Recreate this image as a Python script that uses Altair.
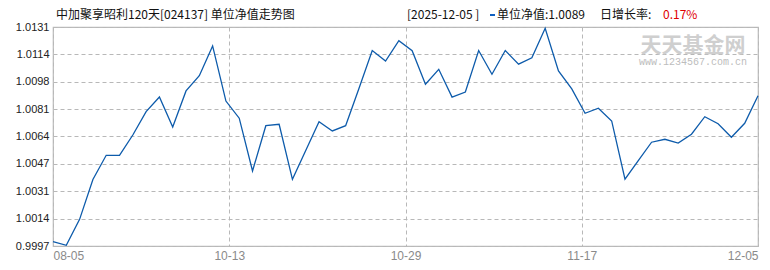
import json
import altair as alt
import pandas as pd

# ---- data ----
nav = [0.99998, 0.99975, 1.00134, 1.00378, 1.00526, 1.00526, 1.00650, 1.00793, 1.00883, 1.00699,
       1.00920, 1.01013, 1.01195, 1.00858, 1.00753, 1.00430, 1.00707, 1.00716, 1.00379, 1.00555,
       1.00732, 1.00675, 1.00707, 1.00935, 1.01167, 1.01103, 1.01227, 1.01166, 1.00961, 1.01052,
       1.00882, 1.00913, 1.01167, 1.01022, 1.01167, 1.01084, 1.01123, 1.01303, 1.01042, 1.00932,
       1.00783, 1.00814, 1.00736, 1.00380, 1.00494, 1.00606, 1.00624, 1.00601, 1.00655, 1.00762,
       1.00719, 1.00636, 1.00722, 1.00890]
date_labels = ["08-05", "10-13", "10-29", "11-17", "12-05"]
y_min, y_max = 0.99971, 1.01311
y_steps = 8

title_text = "中加聚享昭利120天[024137] 单位净值走势图"
date_text = "[2025-12-05 ]"
nav_text = "单位净值:1.0089"
growth_label = "日增长率:"
growth_value = "0.17%"

n = len(nav)
last = n - 1
df = pd.DataFrame({"i": list(range(n)), "nav": nav})
x_ticks = [last * k / (len(date_labels) - 1) for k in range(len(date_labels))]
y_ticks = [y_min + (y_max - y_min) * k / y_steps for k in range(y_steps + 1)]
step = x_ticks[1]
label_expr = f"{json.dumps(date_labels)}[round(datum.value / {step})]"

W, H = 705, 219
LINE = "#0d5bab"
GRID = "#b8b8b8"

line = alt.Chart(df).mark_line(color=LINE, strokeWidth=1.3).encode(
    x=alt.X("i:Q", scale=alt.Scale(domain=[0, last], nice=False, zero=False),
            axis=alt.Axis(values=x_ticks, labelExpr=label_expr, title=None, ticks=False,
                          domain=False, grid=True, gridColor=GRID, gridDash=[4, 3],
                          labelFlush=True, labelColor="#8a8a8a", labelFontSize=12,
                          labelFont="Liberation Sans", labelPadding=4)),
    y=alt.Y("nav:Q", scale=alt.Scale(domain=[y_min, y_max], nice=False, zero=False),
            axis=alt.Axis(values=y_ticks, format=".4f", title=None, ticks=False,
                          domain=False, grid=True, gridColor=GRID, gridDash=[4, 3],
                          labelColor="#222", labelFontSize=11, labelFont="Liberation Sans",
                          labelPadding=4)),
)

one = pd.DataFrame({"k": [0]})

def txt(s, x, y, color="#111", size=12, font="Noto Sans CJK SC", align="left", weight="normal"):
    return alt.Chart(one).mark_text(text=s, align=align, baseline="middle", color=color,
                                    fontSize=size, font=font, fontWeight=weight).encode(
        x=alt.value(x), y=alt.value(y))

title = txt(title_text, 3, -12)
date_t = txt(date_text, 354, -12)
marker = alt.Chart(one).mark_rect(color="#1060c0").encode(
    x=alt.value(437), x2=alt.value(442), y=alt.value(-13), y2=alt.value(-11))
nav_t = txt(nav_text, 444, -12)
gl = txt(growth_label, 547, -12)
gv = txt(growth_value, 610, -12, color="#e00000")
wm1 = txt("天天基金网", 640, 19, color="#cfcfcf", size=21, align="center", weight="bold")
wm2 = txt("www.1234567.com.cn", 640, 35, color="#bdbdbd", size=10, font="Liberation Mono", align="center")

chart = alt.layer(wm1, wm2, line, title, date_t, marker, nav_t, gl, gv).properties(
    width=W, height=H,
    autosize=alt.AutoSizeParams(type="none"),
    padding={"left": 53, "top": 27, "right": 12, "bottom": 24},
    background="white",
).configure_view(stroke="#bbbbbb", strokeWidth=1.2)

chart.save("out.html", embed_options={"renderer": "svg", "actions": False})
